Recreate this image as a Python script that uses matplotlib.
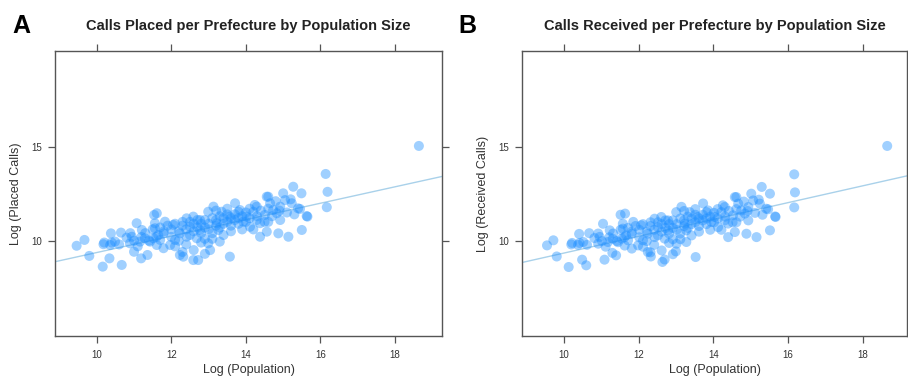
import numpy as np
import matplotlib
matplotlib.use("Agg")
import matplotlib.pyplot as plt

plt.rcParams["font.family"] = ["Liberation Sans", "DejaVu Sans"]

# --------------------------------------------------------------
# data: (log population, log calls)
# --------------------------------------------------------------
placed_pts = [
    (9.46, 9.73), (9.67, 10.04), (9.80, 9.19), (10.16, 8.62), (10.34, 9.06),
    (10.67, 8.71), (10.18, 9.81), (10.36, 9.77), (10.38, 10.39), (10.65, 10.43),
    (10.49, 9.95), (10.80, 10.16), (10.94, 10.21), (11.07, 10.93), (11.00, 9.41),
    (11.19, 9.06), (11.36, 9.24), (11.21, 10.57), (11.29, 10.13), (11.43, 9.95),
    (11.54, 11.37), (11.56, 10.66), (11.65, 10.30), (11.61, 9.77), (11.16, 9.95),
    (10.89, 9.86), (11.61, 11.46), (11.56, 10.93), (11.83, 11.01), (12.05, 10.84),
    (11.79, 10.39), (11.52, 10.13), (11.79, 9.60), (11.97, 9.77), (12.23, 9.24),
    (12.32, 9.15), (12.59, 8.97), (12.72, 8.97), (13.57, 9.15), (12.99, 9.86),
    (13.04, 9.50), (13.30, 9.95), (13.13, 11.81), (12.99, 11.54), (13.35, 11.54),
    (13.71, 11.99), (13.80, 11.54), (14.02, 11.28), (12.41, 11.19), (12.59, 11.28),
    (12.77, 11.10), (12.50, 10.74), (12.77, 10.57), (13.22, 10.93), (13.57, 11.28),
    (12.23, 10.39), (12.41, 10.21), (12.68, 10.13), (13.26, 10.57), (12.10, 10.04),
    (11.70, 10.04), (13.84, 11.63), (14.24, 11.90), (14.29, 11.10), (14.51, 11.37),
    (14.60, 12.34), (14.65, 11.99), (14.73, 11.63), (14.83, 11.46), (15.00, 12.52),
    (15.05, 12.16), (15.23, 11.99), (15.27, 12.87), (15.49, 12.52), (15.40, 11.72),
    (15.63, 11.31), (15.50, 10.57), (15.14, 10.21), (14.87, 10.39), (14.56, 10.48),
    (14.38, 10.21), (14.38, 10.93), (14.11, 10.74), (13.93, 11.01), (14.20, 11.54),
    (14.92, 11.10), (14.92, 11.81), (14.29, 11.81), (14.56, 12.34), (15.45, 11.69),
    (15.65, 11.28), (16.14, 13.55), (16.19, 12.60), (16.17, 11.78), (18.64, 15.04),
    (11.80, 10.50), (11.90, 10.80), (12.00, 10.20), (12.00, 10.60), (12.10, 10.90),
    (12.20, 10.50), (12.20, 10.00), (12.30, 10.80), (12.30, 11.00), (12.40, 10.60),
    (12.50, 10.30), (12.50, 11.00), (12.60, 10.50), (12.60, 10.90), (12.70, 10.70),
    (12.70, 11.10), (12.80, 10.40), (12.80, 10.90), (12.90, 10.70), (12.90, 11.10),
    (13.00, 10.60), (13.00, 10.90), (13.10, 10.40), (13.10, 11.20), (13.20, 10.80),
    (13.20, 11.10), (13.30, 10.70), (13.30, 11.30), (13.40, 10.90), (13.40, 11.20),
    (13.50, 11.00), (13.50, 11.40), (13.60, 10.80), (13.60, 11.20), (13.70, 11.10),
    (13.70, 11.40), (13.80, 10.90), (13.80, 11.20), (13.90, 11.30), (14.00, 11.00),
    (14.00, 11.50), (14.10, 11.20), (14.20, 10.60), (14.30, 11.30), (14.40, 11.60),
    (14.50, 11.00), (14.60, 11.70), (14.70, 11.30), (14.80, 12.10), (15.10, 11.50),
    (11.30, 10.40), (11.40, 10.00), (11.50, 10.60), (11.60, 10.20), (11.70, 10.70),
    (11.00, 10.00), (11.10, 9.70), (11.20, 10.20), (10.90, 10.40), (10.60, 9.80),
    (10.40, 9.90), (10.20, 9.90), (12.10, 9.70), (12.40, 9.80), (12.60, 9.50),
    (12.80, 9.90), (12.90, 9.30), (13.10, 10.10), (13.40, 10.30), (13.60, 10.50),
    (13.90, 10.60), (12.30, 9.40), (12.90, 10.10), (13.20, 11.60), (13.50, 11.70),
    (14.10, 11.70), (14.60, 11.00), (14.90, 11.60), (15.30, 11.40), (15.20, 12.20),
]

received_pts = [
    (9.55, 9.75), (9.72, 10.02), (9.81, 9.16), (10.13, 8.60), (10.49, 8.99),
    (10.60, 8.69), (10.20, 9.80), (10.38, 9.78), (10.41, 10.36), (10.68, 10.40),
    (10.52, 9.93), (10.82, 10.14), (10.96, 10.20), (11.05, 10.90), (11.09, 8.99),
    (11.40, 9.22), (11.30, 9.35), (11.23, 10.55), (11.31, 10.10), (11.45, 9.92),
    (11.52, 11.38), (11.58, 10.64), (11.67, 10.28), (11.63, 9.74), (11.18, 9.93),
    (10.92, 9.84), (11.64, 11.44), (11.58, 10.90), (11.86, 11.00), (12.07, 10.82),
    (11.82, 10.37), (11.55, 10.11), (11.82, 9.58), (11.99, 9.75), (12.25, 9.40),
    (12.33, 9.16), (12.64, 8.87), (12.70, 9.00), (13.53, 9.13), (13.00, 9.43),
    (13.02, 9.84), (13.28, 9.93), (13.15, 11.80), (13.01, 11.52), (13.37, 11.52),
    (13.73, 11.98), (13.82, 11.52), (14.04, 11.26), (12.43, 11.17), (12.61, 11.26),
    (12.79, 11.08), (12.52, 10.72), (12.79, 10.55), (13.24, 10.91), (13.59, 11.26),
    (12.25, 10.37), (12.43, 10.19), (12.70, 10.11), (13.28, 10.55), (12.12, 10.02),
    (11.72, 10.02), (13.86, 11.61), (14.26, 11.88), (14.31, 11.08), (14.53, 11.35),
    (14.62, 12.32), (14.67, 11.97), (14.75, 11.61), (14.85, 11.44), (15.02, 12.50),
    (15.07, 12.14), (15.25, 11.97), (15.30, 12.86), (15.52, 12.50), (15.42, 11.70),
    (15.66, 11.29), (15.52, 10.55), (15.16, 10.19), (14.89, 10.37), (14.58, 10.46),
    (14.40, 10.19), (14.40, 10.91), (14.13, 10.72), (13.95, 10.99), (14.22, 11.52),
    (14.94, 11.08), (14.94, 11.79), (14.31, 11.79), (14.58, 12.32), (15.47, 11.67),
    (15.67, 11.26), (16.17, 13.53), (16.19, 12.57), (16.17, 11.77), (18.66, 15.04),
    (11.82, 10.48), (11.92, 10.78), (12.02, 10.18), (12.02, 10.58), (12.12, 10.88),
    (12.22, 10.48), (12.22, 9.98), (12.32, 10.78), (12.32, 10.98), (12.42, 10.58),
    (12.52, 10.28), (12.52, 10.98), (12.62, 10.48), (12.62, 10.88), (12.72, 10.68),
    (12.72, 11.08), (12.82, 10.38), (12.82, 10.88), (12.92, 10.68), (12.92, 11.08),
    (13.02, 10.58), (13.02, 10.88), (13.12, 10.38), (13.12, 11.18), (13.22, 10.78),
    (13.22, 11.08), (13.32, 10.68), (13.32, 11.28), (13.42, 10.88), (13.42, 11.18),
    (13.52, 10.98), (13.52, 11.38), (13.62, 10.78), (13.62, 11.18), (13.72, 11.08),
    (13.72, 11.38), (13.82, 10.88), (13.82, 11.18), (13.92, 11.28), (14.02, 10.98),
    (14.02, 11.48), (14.12, 11.18), (14.22, 10.58), (14.32, 11.28), (14.42, 11.58),
    (14.52, 10.98), (14.62, 11.68), (14.72, 11.28), (14.82, 12.08), (15.12, 11.48),
    (11.32, 10.38), (11.42, 9.98), (11.52, 10.58), (11.62, 10.18), (11.72, 10.68),
    (11.02, 9.98), (11.12, 9.68), (11.22, 10.18), (10.92, 10.38), (10.62, 9.78),
    (10.42, 9.88), (10.22, 9.88), (12.12, 9.68), (12.42, 9.78), (12.62, 9.48),
    (12.82, 9.88), (12.92, 9.28), (13.12, 10.08), (13.42, 10.28), (13.62, 10.48),
    (13.92, 10.58), (12.32, 9.38), (12.92, 10.08), (13.22, 11.58), (13.52, 11.68),
    (14.12, 11.68), (14.62, 10.98), (14.92, 11.58), (15.32, 11.38), (15.22, 12.18),
]

# fitted lines as drawn in the figure
fit_placed = (0.437, 5.00)      # slope, intercept
fit_received = (0.447, 4.87)

titles = ["Calls Placed per Prefecture by Population Size",
          "Calls Received per Prefecture by Population Size"]
ylabels = ["Log (Placed Calls)", "Log (Received Calls)"]
letters = ["A", "B"]
x_ticks = [10, 12, 14, 16, 18]
y_ticks = [10, 15]

# --------------------------------------------------------------
# figure
# --------------------------------------------------------------
W, H = 908, 385
fig = plt.figure(figsize=(W / 100, H / 100), dpi=100)

boxes = [(55, 442), (522, 907)]   # axes left/right in px
top_px, bot_px = 51, 336
edge = "#555555"
dot = "#1E8FFF"
line_col = "#A9D1EA"

for k, (pts, fit) in enumerate([(placed_pts, fit_placed),
                                (received_pts, fit_received)]):
    l, r = boxes[k]
    ax = fig.add_axes([l / W, 1 - bot_px / H, (r - l) / W, (bot_px - top_px) / H])
    pop, calls = np.array(pts).T

    ax.set_xlim(8.88, 19.26 if k == 0 else 19.19)
    ax.set_ylim(4.93, 20.09)

    xs = np.array(ax.get_xlim())
    ax.plot(xs, fit[0] * xs + fit[1], color=line_col, lw=1.0, zorder=1)
    ax.scatter(pop, calls, s=52, color=dot, alpha=0.42, edgecolors="none", zorder=2)

    ax.set_xticks(x_ticks)
    ax.set_yticks(y_ticks)
    ax.tick_params(direction="out", length=5, width=0.9, color=edge,
                   labelsize=7, labelcolor="#333333",
                   top=True, right=True, labeltop=False, labelright=False)
    ax.tick_params(axis="x", pad=5)
    ax.tick_params(axis="y", pad=4)
    for s in ax.spines.values():
        s.set_color(edge)
        s.set_linewidth(1.0)

    ax.set_xlabel("Log (Population)", fontsize=9, color="#333333", labelpad=3)
    ax.set_ylabel(ylabels[k], fontsize=9, color="#333333", labelpad=7)

    cx = (l + r) / 2 / W
    fig.text(cx, 1 - 26 / H, titles[k], ha="center", va="center",
             fontsize=10.5, fontweight="bold", color="#222222")
    fig.text((12 if k == 0 else 458) / W, 1 - 26 / H, letters[k],
             ha="left", va="center", fontsize=18, fontweight="bold", color="black")

fig.savefig("out.png", dpi=100)
